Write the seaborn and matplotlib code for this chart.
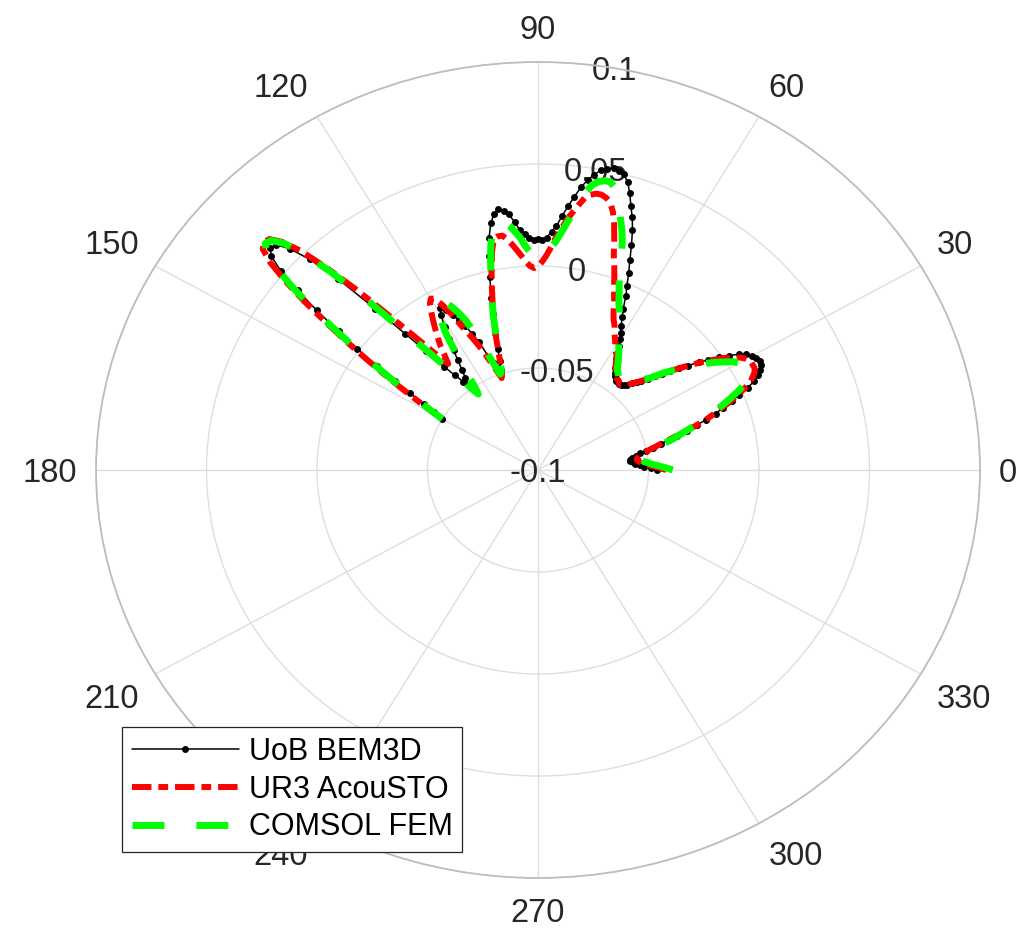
import numpy as np
import pandas as pd
import matplotlib
matplotlib.use("Agg")
import matplotlib.pyplot as plt
import seaborn as sns

# Polar angle of every sample (degrees)
theta_deg = np.arange(0, 151, 1)

# Radial response of each solver at theta_deg
r_uob_bem3d = [
    -0.046, -0.049, -0.052, -0.054, -0.056, -0.057, -0.058, -0.058, -0.057, -0.055,
    -0.053, -0.050, -0.047, -0.043, -0.039, -0.035, -0.030, -0.025, -0.020, -0.015,
    -0.011, -0.006, -0.002, 0.003, 0.007, 0.010, 0.012, 0.013, 0.014, 0.013,
    0.012, 0.010, 0.007, 0.003, -0.001, -0.006, -0.010, -0.015, -0.019, -0.023,
    -0.027, -0.030, -0.033, -0.036, -0.038, -0.040, -0.042, -0.043, -0.044, -0.044,
    -0.044, -0.044, -0.043, -0.042, -0.041, -0.039, -0.037, -0.035, -0.032, -0.029,
    -0.026, -0.023, -0.020, -0.016, -0.012, -0.006, -0.001, 0.005, 0.011, 0.018,
    0.025, 0.031, 0.036, 0.042, 0.047, 0.050, 0.051, 0.052, 0.051, 0.050,
    0.047, 0.044, 0.040, 0.035, 0.030, 0.025, 0.020, 0.017, 0.014, 0.013,
    0.013, 0.013, 0.014, 0.016, 0.018, 0.022, 0.026, 0.028, 0.029, 0.027,
    0.023, 0.016, 0.007, -0.003, -0.013, -0.021, -0.030, -0.038, -0.044, -0.048,
    -0.047, -0.044, -0.040, -0.032, -0.027, -0.022, -0.018, -0.015, -0.011, -0.009,
    -0.012, -0.018, -0.024, -0.030, -0.035, -0.040, -0.044, -0.048, -0.045, -0.040,
    -0.034, -0.023, -0.010, 0.008, 0.030, 0.046, 0.056, 0.062, 0.063, 0.060,
    0.052, 0.040, 0.027, 0.013, 0.001, -0.011, -0.022, -0.031, -0.039, -0.045,
    -0.050,
]

r_ur3_acousto = [
    -0.042, -0.045, -0.048, -0.051, -0.053, -0.054, -0.055, -0.055, -0.054, -0.053,
    -0.051, -0.049, -0.046, -0.043, -0.039, -0.035, -0.030, -0.025, -0.020, -0.016,
    -0.012, -0.007, -0.003, 0.001, 0.005, 0.007, 0.009, 0.010, 0.010, 0.010,
    0.009, 0.007, 0.004, 0.001, -0.003, -0.007, -0.011, -0.015, -0.019, -0.023,
    -0.027, -0.030, -0.033, -0.036, -0.038, -0.040, -0.042, -0.043, -0.044, -0.044,
    -0.043, -0.043, -0.042, -0.041, -0.040, -0.039, -0.037, -0.035, -0.033, -0.032,
    -0.030, -0.028, -0.026, -0.024, -0.021, -0.019, -0.016, -0.012, -0.008, -0.004,
    0.001, 0.006, 0.011, 0.018, 0.025, 0.031, 0.035, 0.037, 0.038, 0.038,
    0.037, 0.035, 0.031, 0.027, 0.023, 0.018, 0.014, 0.009, 0.005, 0.002,
    0.000, -0.001, 0.000, 0.002, 0.005, 0.008, 0.011, 0.014, 0.016, 0.016,
    0.015, 0.009, 0.001, -0.007, -0.015, -0.022, -0.030, -0.038, -0.045, -0.050,
    -0.052, -0.048, -0.043, -0.037, -0.032, -0.027, -0.022, -0.015, -0.009, -0.004,
    -0.003, -0.005, -0.009, -0.013, -0.017, -0.021, -0.025, -0.030, -0.034, -0.028,
    -0.019, -0.008, 0.006, 0.022, 0.038, 0.052, 0.061, 0.066, 0.067, 0.065,
    0.058, 0.047, 0.034, 0.020, 0.007, -0.005, -0.016, -0.026, -0.035, -0.043,
    -0.050,
]

r_comsol_fem = [
    -0.039, -0.042, -0.045, -0.048, -0.050, -0.052, -0.053, -0.053, -0.052, -0.051,
    -0.049, -0.047, -0.044, -0.041, -0.037, -0.034, -0.030, -0.026, -0.022, -0.018,
    -0.014, -0.010, -0.006, -0.002, 0.002, 0.005, 0.006, 0.007, 0.007, 0.006,
    0.005, 0.003, 0.000, -0.003, -0.006, -0.009, -0.012, -0.016, -0.019, -0.023,
    -0.026, -0.030, -0.033, -0.035, -0.038, -0.040, -0.041, -0.042, -0.043, -0.043,
    -0.043, -0.042, -0.041, -0.040, -0.039, -0.037, -0.035, -0.033, -0.031, -0.029,
    -0.027, -0.025, -0.022, -0.019, -0.016, -0.013, -0.010, -0.006, -0.002, 0.003,
    0.010, 0.017, 0.023, 0.028, 0.034, 0.039, 0.043, 0.045, 0.045, 0.044,
    0.042, 0.038, 0.032, 0.026, 0.021, 0.016, 0.012, 0.009, 0.007, 0.005,
    0.004, 0.005, 0.007, 0.010, 0.014, 0.017, 0.020, 0.022, 0.023, 0.023,
    0.019, 0.012, 0.003, -0.006, -0.014, -0.022, -0.031, -0.039, -0.045, -0.049,
    -0.050, -0.045, -0.037, -0.028, -0.020, -0.015, -0.011, -0.008, -0.006, -0.007,
    -0.010, -0.015, -0.022, -0.032, -0.042, -0.050, -0.054, -0.050, -0.043, -0.036,
    -0.030, -0.019, -0.004, 0.016, 0.035, 0.051, 0.060, 0.065, 0.066, 0.063,
    0.055, 0.044, 0.031, 0.017, 0.004, -0.008, -0.019, -0.029, -0.037, -0.044,
    -0.050,
]

series_names = ["UoB BEM3D", "UR3 AcouSTO", "COMSOL FEM"]
theta_ticks = np.arange(0, 360, 30)
theta_ticklabels = [str(t) for t in theta_ticks]
r_ticks = [-0.1, -0.05, 0, 0.05, 0.1]
r_ticklabels = ["-0.1", "-0.05", "0", "0.05", "0.1"]

sns.set_theme(style="white")
plt.rcParams["font.family"] = ["Liberation Sans", "DejaVu Sans"]
plt.rcParams["lines.scale_dashes"] = False

text_color = "#262626"
tick_fs = 23.5
legend_fs = 22

df = pd.DataFrame({
    "theta": np.deg2rad(theta_deg),
    series_names[0]: r_uob_bem3d,
    series_names[1]: r_ur3_acousto,
    series_names[2]: r_comsol_fem,
})

fig = plt.figure(figsize=(10.24, 9.44), dpi=100)
ax = fig.add_axes([96 / 1024, 66 / 944, 884 / 1024, 816 / 944], projection="polar")
ax.set_aspect("auto")
ax.set_ylim(-0.1, 0.1)

# grid
ax.set_xticks(np.deg2rad(theta_ticks))
ax.set_xticklabels([])
ax.set_yticks(r_ticks)
ax.set_yticklabels([])
ax.tick_params(length=0)
ax.grid(True, color="#dedede", linewidth=1.0)
ax.spines["polar"].set_color("#bdbdbd")
ax.spines["polar"].set_linewidth(1.3)

# curves
sns.lineplot(data=df, x="theta", y=series_names[0], ax=ax, sort=False,
             color="black", linewidth=1.1, marker="o", markersize=5,
             markeredgewidth=0, label=series_names[0])
sns.lineplot(data=df, x="theta", y=series_names[1], ax=ax, sort=False,
             color="#ff0000", linewidth=4.3, label=series_names[1])
sns.lineplot(data=df, x="theta", y=series_names[2], ax=ax, sort=False,
             color="#00ff00", linewidth=5.0, label=series_names[2])
lines = ax.get_lines()
red_line = [l for l in lines if l.get_label() == series_names[1]][0]
green_line = [l for l in lines if l.get_label() == series_names[2]][0]
red_line.set_dashes((14, 5, 7, 5))
red_line.set_dash_capstyle("butt")
green_line.set_dashes((23, 23))
green_line.set_dash_capstyle("butt")
ax.set_xlabel("")
ax.set_ylabel("")

# radial labels along the 80 degree spoke
for rv, lbl in zip(r_ticks, r_ticklabels):
    ax.annotate(lbl, xy=(np.deg2rad(80), rv), xytext=(0, -2.5),
                textcoords="offset points", ha="center", va="center",
                fontsize=tick_fs, color=text_color, zorder=1)

# angle labels outside the rim (gaps in pixels, converted to points)
gap_x, gap_top, gap_bottom = 19, 23, 20
px2pt = 72 / fig.dpi
for t, lbl in zip(theta_ticks, theta_ticklabels):
    c, s = np.cos(np.deg2rad(t)), np.sin(np.deg2rad(t))
    ha = "left" if c > 0.1 else ("right" if c < -0.1 else "center")
    if s > 0.1:
        va, dy = "baseline", s * gap_top
    elif s < -0.1:
        va, dy = "top", s * gap_bottom
    else:
        va, dy = "center_baseline", 0.0
    ax.annotate(lbl, xy=(np.deg2rad(t), 0.1),
                xytext=(c * gap_x * px2pt, dy * px2pt),
                textcoords="offset points", ha=ha, va=va,
                fontsize=tick_fs, color=text_color, annotation_clip=False)

if ax.get_legend() is not None:
    ax.get_legend().remove()
handles = [l for l in ax.get_lines() if l.get_label() in series_names]
leg = fig.legend(handles, series_names, loc="lower left",
                 bbox_to_anchor=(122 / 1024, 92 / 944),
                 bbox_transform=fig.transFigure, borderaxespad=0,
                 fontsize=legend_fs, frameon=True, fancybox=False, framealpha=1,
                 edgecolor=text_color, handlelength=3.5, handletextpad=0.33,
                 labelspacing=0.25, borderpad=0.32, numpoints=1)
leg.get_frame().set_linewidth(0.9)
for txt in leg.get_texts():
    txt.set_color("black")

fig.savefig("out.png", dpi=100, facecolor="white")
